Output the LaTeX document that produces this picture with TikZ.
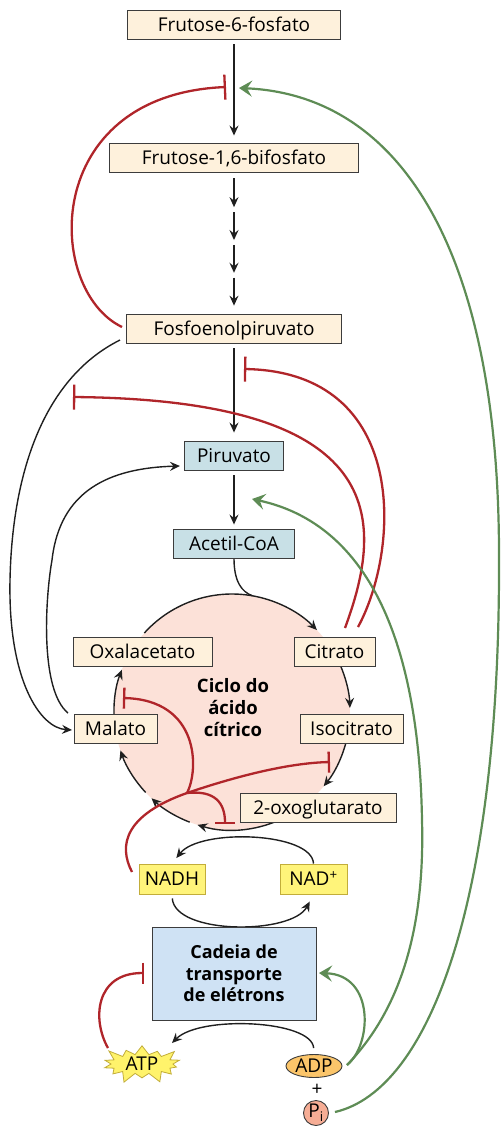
\documentclass[tikz,border=0pt]{standalone}
\usepackage{fontspec}
\setmainfont{Open Sans}
\usetikzlibrary{arrows.meta,shapes.symbols,shapes.geometric,calc}
\definecolor{cream}{HTML}{FEF1DC}
\definecolor{bluebox}{HTML}{C8E0E6}
\definecolor{etcblue}{HTML}{CFE2F4}
\definecolor{cyclepink}{HTML}{FCE1D8}
\definecolor{nadyel}{HTML}{FFF47A}
\definecolor{nadborder}{HTML}{C2AD3A}
\definecolor{atpyel}{HTML}{FFF36B}
\definecolor{adporange}{HTML}{FBC56A}
\definecolor{pisalmon}{HTML}{F6AD95}
\definecolor{inhred}{HTML}{B0252A}
\definecolor{actgreen}{HTML}{5E8C55}
\definecolor{boxline}{HTML}{3C3C3C}
\pgfdeclarelayer{bgcircle}
\pgfdeclarelayer{bglines}
\pgfsetlayers{bgcircle,bglines,main}
\begin{document}
\begin{tikzpicture}[x=1pt,y=-1pt,
 every node/.style={font=\fontsize{19}{22}\selectfont},
 box/.style={draw=boxline,line width=0.9pt,inner sep=0pt,text height=13.4pt,text depth=0pt,minimum height=29pt},
 met/.style={box,fill=cream},
 blu/.style={box,fill=bluebox},
 yel/.style={box,fill=nadyel,draw=nadborder,minimum height=30pt},
 blk/.style={draw=black!88,line width=1.4pt,-{Stealth[length=10pt,width=9pt,inset=3.5pt]}},
 inh/.style={draw=inhred,line width=2.3pt,-{Bar[width=25pt]}},
 inhs/.style={draw=inhred,line width=2.3pt,-{Bar[width=21pt]}},
 act/.style={draw=actgreen,line width=2.2pt,-{Stealth[length=13pt,width=16pt,inset=5pt]}}]
\useasboundingbox (0,0) rectangle (501,1128);

% ---- nodes
\node[met,minimum width=213pt] (f6p) at (234,24.75) {Frutose-6-fosfato};
\node[met,minimum width=249pt] (f16bp) at (234,157.5) {Frutose-1,6-bifosfato};
\node[met,minimum width=215pt] (pep) at (234,328.5) {Fosfoenolpiruvato};
\node[blu,minimum width=99pt] (pir) at (234,455.5) {Piruvato};
\node[blu,minimum width=121pt] (acoa) at (234,543.5) {Acetil-CoA};
\coordinate (cc) at (232,712);
\begin{pgfonlayer}{bgcircle}
\node[circle,fill=cyclepink,minimum size=236pt,inner sep=0pt] (cycle) at (cc) {};
\end{pgfonlayer}
\node[met,minimum width=139pt] (oxa) at (142.5,651.5) {Oxalacetato};
\node[met,minimum width=81pt] (cit) at (334.5,651.5) {Citrato};
\node[met,minimum width=83pt] (mal) at (115.5,728.5) {Malato};
\node[met,minimum width=103pt] (iso) at (351.5,728.5) {Isocitrato};
\node[met,minimum width=156pt] (oxo) at (318,807.5) {2-oxoglutarato};
\node[font=\bfseries\fontsize{18.5}{22}\selectfont,align=center,inner sep=0pt] (cyclabel) at (233,708) {Ciclo do\\ácido\\cítrico};
\node[yel,minimum width=66pt] (nadh) at (172,879) {NADH};
\node[yel,minimum width=67pt] (nadp) at (313.5,879) {NAD\textsuperscript{+}};
\node[draw=boxline,line width=1pt,fill=etcblue,minimum width=164pt,minimum height=93pt,inner sep=0pt,
      font=\bfseries\fontsize{18}{21.7}\selectfont,align=center] (etc) at (234,973.5) {Cadeia de\\transporte\\de elétrons};
\node[starburst,starburst points=14,starburst point height=12pt,fill=atpyel,draw=nadborder,line width=0.8pt,
      minimum width=86pt,minimum height=33pt,inner sep=0pt] (atp) at (142,1064) {ATP};
\node[ellipse,fill=adporange,draw=boxline,line width=0.9pt,minimum width=56pt,minimum height=23pt,inner sep=0pt] (adp) at (314,1066) {ADP};
\node[inner sep=0pt] (plus) at (317,1090) {+};
\node[circle,fill=pisalmon,draw=boxline,line width=0.9pt,minimum size=25pt,inner sep=0pt] (pi) at (316,1113) {P\textsubscript{i}};

% ---- free ends
\coordinate (f6pinh) at (226,87);
\coordinate (f6pact) at (239,88);
\coordinate (pepL) at (122,327);
\coordinate (pepBL) at (120,340);
\coordinate (pepinh) at (244,369);
\coordinate (leftinh) at (73,397);
\coordinate (cr1) at (345,628);
\coordinate (cr2) at (358,627);
\coordinate (pirL) at (180,466);
\coordinate (pirR) at (252,499);
\coordinate (malL) at (72,730);
\coordinate (malT) at (68,713);
\coordinate (J) at (187,793);
\coordinate (nadhR) at (132,872);
\coordinate (isoinh) at (330,762);
\coordinate (malinh) at (123,698);
\coordinate (botinh) at (225,824);
\coordinate (atptip) at (172,1043);
\coordinate (atpR) at (108,1048);
\coordinate (etcinh) at (144,973);
\coordinate (etcact) at (319,973);
\coordinate (adpR) at (347,1065);
\coordinate (piR) at (335,1112);

\begin{pgfonlayer}{bglines}
% main chain
\draw[blk,shorten <=4.5pt,shorten >=7pt] (f6p) -- (f16bp);
\foreach \a/\b in {0.042/0.246,0.282/0.479,0.514/0.711,0.746/0.944}
  \draw[blk] ($(f16bp.south)!\a!(pep.north)$) -- ($(f16bp.south)!\b!(pep.north)$);
\draw[blk,shorten <=5pt,shorten >=8pt] (pep) -- (pir);
\draw[blk,shorten <=5pt,shorten >=4pt] (pir) -- (acoa);
% acetyl-CoA into cycle
\draw[line width=1.4pt,black!88] (acoa.south) .. controls (234,582) and (242,592) .. ($(cc)+(-80:118)$);
% cycle arcs
\foreach \s/\e in {-138/-44,-24/-2,13/39,62/107,111/133,137/161,-188/-159}
  \draw[blk] ($(cc)+(\s:118)$) arc[start angle=\s,end angle=\e,radius=118];
% side black curves
\draw[blk] (pepBL) .. controls (40,380) and (12,480) .. (10,580) .. controls (8,680) and (40,728) .. (malL);
\draw[blk] (malT) .. controls (40,690) and (45,600) .. (52,560) .. controls (60,490) and (110,468) .. (pirL);
% NADH / NAD+
\draw[blk,shorten >=7pt] (nadp.north) .. controls (312,832) and (200,828) .. (nadh.north);
\draw[blk,shorten <=4pt,shorten >=8pt] (nadh.south) .. controls (175,935) and (292,935) .. (nadp.south);
% ADP -> ATP
\draw[blk,shorten <=6pt] (adp.north) .. controls (312,1020) and (200,1015) .. (atptip);
% red inhibitions
\draw[inh] (pepL) .. controls (45,290) and (40,95) .. (f6pinh);
\draw[inh] (cr2) .. controls (400,550) and (410,372) .. (pepinh);
\draw[inh] (cr1) .. controls (385,520) and (390,400) .. (leftinh);
\draw[inhs] (nadhR) .. controls (118,845) and (125,815) .. (J) .. controls (240,775) and (290,763) .. (isoinh);
\draw[inhs] (J) .. controls (199,770) and (200,700) .. (malinh);
\draw[inhs,-{Bar[width=20pt]}] (J) .. controls (215,790) and (225,803) .. (botinh);
\draw[inhs] (atpR) .. controls (92,1020) and (95,973) .. (etcinh);
% green activations
\draw[act] (piR) .. controls (430,1090) and (500,900) .. (499,560) .. controls (500,250) and (400,95) .. (f6pact);
\draw[act] (adpR) .. controls (400,1010) and (425,930) .. (422,820) .. controls (420,700) and (395,530) .. (pirR);
\draw[act] (adpR) .. controls (372,1045) and (375,975) .. (etcact);
\end{pgfonlayer}
\end{tikzpicture}
\end{document}
